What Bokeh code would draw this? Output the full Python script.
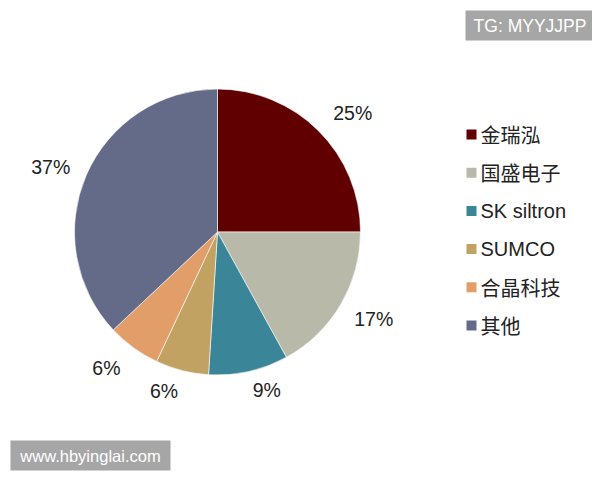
import math
from bokeh.plotting import figure
from bokeh.models import Range1d, ColumnDataSource
from bokeh.core.properties import value
from bokeh.embed import file_html
from bokeh.resources import INLINE

categories = ["金瑞泓", "国盛电子", "SK siltron", "SUMCO", "合晶科技", "其他"]
shares = [25, 17, 9, 6, 6, 37]
colors = ["#600000", "#b9b9a9", "#3b8598", "#c1a262", "#e29e68", "#646b89"]
watermark_top = "TG: MYYJJPP"
watermark_bottom = "www.hbyinglai.com"

# label placement (layout only): distance from centre and angular nudge (deg)
label_dist = [180, 179, 166, 167.5, 175.4, 179]
label_nudge = [3.7, -1.4, -4.7, 4.2, 3.3, -2.1]

W, H = 592, 472
p = figure(width=W, height=H, x_range=Range1d(0, W), y_range=Range1d(0, H),
           output_backend="svg", toolbar_location=None,
           x_axis_type=None, y_axis_type=None, min_border=0)
p.outline_line_color = None
p.grid.visible = False
p.background_fill_color = "white"

def py(y):  # picture y -> data y
    return H - y
def px(x):
    return x

cx, cy, R = px(217), py(231.5), 143
total = sum(shares)
starts, ends, lx, ly, labs = [], [], [], [], []
cum = 0.0
for i, s in enumerate(shares):
    a0 = math.pi / 2 - 2 * math.pi * cum / total
    cum += s
    a1 = math.pi / 2 - 2 * math.pi * cum / total
    starts.append(a0)
    ends.append(a1)
    mid = (a0 + a1) / 2 - math.radians(label_nudge[i])
    lx.append(cx + label_dist[i] * math.cos(mid))
    ly.append(cy + label_dist[i] * math.sin(mid))
    labs.append(f"{s}%")

src = ColumnDataSource(dict(start=starts, end=ends, color=colors, cat=categories))
p.wedge(x=cx, y=cy, radius=R, start_angle="start", end_angle="end",
        direction="clock", fill_color="color", line_color="white",
        line_width=0.6, source=src)

p.text(x=lx, y=ly, text=labs, text_font=value("Liberation Sans"),
       text_font_size="19.5px", text_color="#222222",
       text_align="center", text_baseline="middle")

# legend
leg_y0 = 134
leg_dy = 38.2
n = len(categories)
ys = [py(leg_y0 + i * leg_dy) for i in range(n)]
fonts = ["Liberation Sans" if c.isascii() else "Noto Sans CJK SC" for c in categories]
p.rect(x=[px(471)] * n, y=ys, width=10, height=10,
       fill_color=colors, line_color=None)
p.text(x=[px(480)] * n, y=ys, text=categories, text_font=fonts,
       text_font_size="20px", text_color="#222222",
       text_align="left", text_baseline="middle")

# watermark boxes
p.rect(x=[px(530.5)], y=[py(25)], width=131, height=30, fill_color="#a6a6a6", line_color=None)
p.text(x=[px(529.5)], y=[py(25)], text=[watermark_top], text_font=value("Liberation Sans"),
       text_font_size="17.5px", text_color="white", text_align="center", text_baseline="middle")
p.rect(x=[px(90)], y=[py(455)], width=160, height=30, fill_color="#a6a6a6", line_color=None)
p.text(x=[px(90)], y=[py(455)], text=[watermark_bottom], text_font=value("Liberation Sans"),
       text_font_size="16.5px", text_color="white", text_align="center", text_baseline="middle")

open("out.html", "w").write(file_html(p, INLINE))
